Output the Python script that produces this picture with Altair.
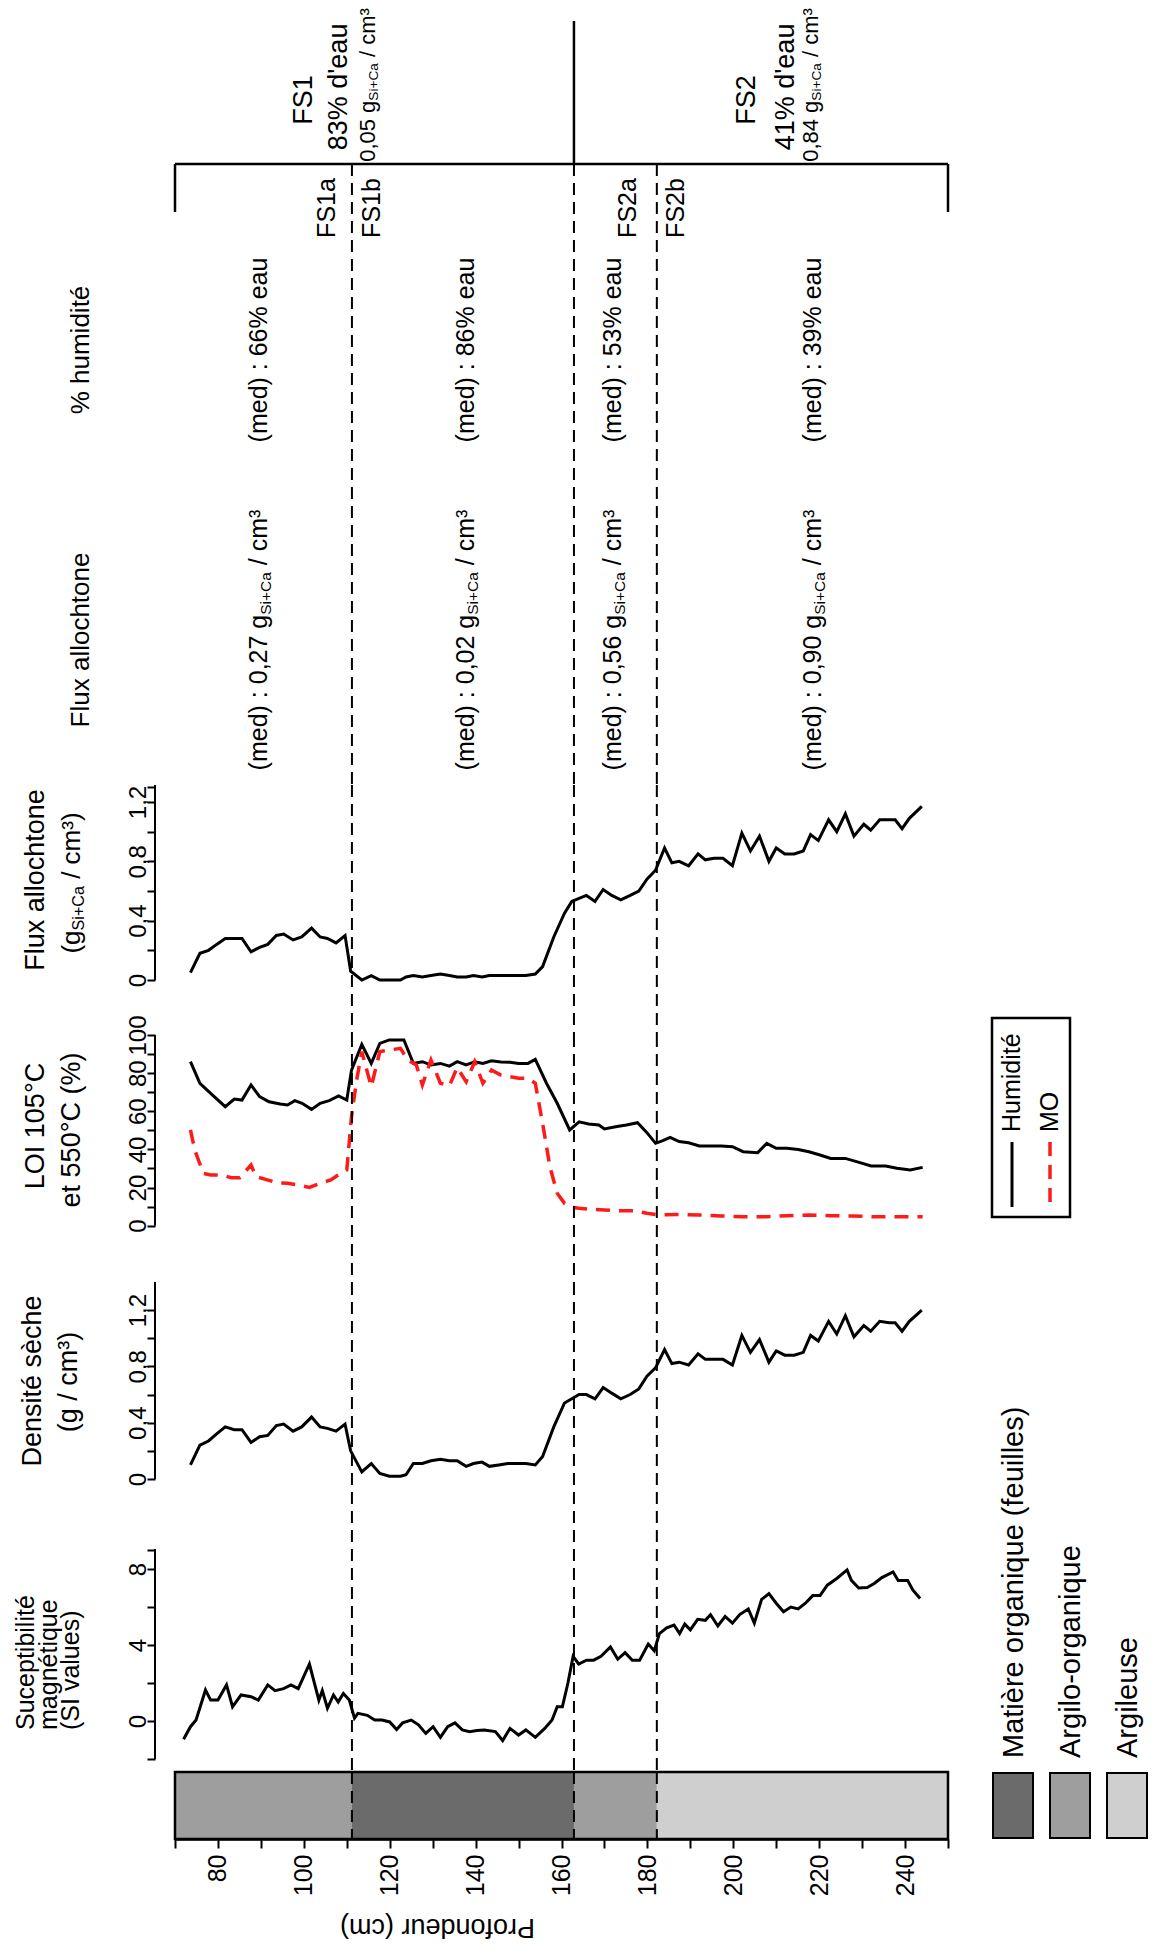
import altair as alt
import pandas as pd

# ---------------- data ----------------
mag_depth = [72.0, 73.6, 74.9, 77.1, 78.3, 80.0, 82.0, 83.4, 85.4, 87.7,
             89.4, 91.6, 93.3, 95.3, 97.0, 98.7, 101.3, 103.5, 104.3, 105.5,
             106.9, 108.0, 109.2, 110.6, 111.8, 112.6, 114.8, 116.5, 118.2, 120.0,
             121.6, 123.0, 125.0, 126.7, 128.4, 130.1, 131.8, 133.5, 135.2, 136.9,
             138.6, 140.3, 142.0, 144.6, 146.3, 148.0, 150.0, 151.7, 153.9, 156.1,
             157.8, 159.0, 160.2, 161.5, 162.7, 164.0, 165.8, 167.5, 169.2, 171.4,
             173.1, 174.8, 176.5, 178.2, 180.2, 181.6, 182.8, 184.5, 186.2, 187.5,
             188.7, 190.0, 191.7, 193.5, 194.7, 196.4, 198.1, 199.8, 201.5, 203.5,
             204.9, 206.6, 208.3, 210.0, 211.7, 213.4, 215.1, 216.8, 218.5, 220.2,
             221.9, 224.1, 226.5, 227.5, 229.2, 231.2, 232.9, 234.6, 237.2, 238.4,
             240.6, 241.8, 243.5]
mag_si = [-0.96, -0.3, 0.05, 1.63, 1.1, 1.1, 1.9, 0.75, 1.37, 1.28,
          1.1, 1.9, 1.6, 1.7, 1.9, 1.7, 3.0, 1.1, 1.6, 0.67,
          1.37, 1.0, 1.45, 1.1, 0.15, 0.4, 0.3, 0.05, 0.05, -0.05,
          -0.45, -0.1, 0.05, -0.2, -0.65, -0.3, -0.86, -0.3, -0.1, -0.47,
          -0.56, -0.5, -0.47, -0.56, -1.03, -0.39, -0.74, -0.47, -0.86, -0.39,
          0.05, 0.75, 0.75, 2.0, 3.4, 3.0, 3.2, 3.2, 3.4, 3.9,
          3.25, 3.6, 3.2, 3.2, 4.05, 3.7, 4.6, 4.9, 5.05, 4.6,
          5.1, 4.8, 5.35, 5.3, 5.6, 5.0, 5.5, 5.15, 5.6, 5.9,
          5.15, 6.4, 6.7, 6.2, 5.75, 6.0, 5.9, 6.2, 6.6, 6.6,
          7.15, 7.5, 7.95, 7.4, 7.0, 7.03, 7.25, 7.55, 7.85, 7.4,
          7.4, 6.9, 6.45]

dens_depth = [73.6, 75.8, 77.8, 79.7, 81.7, 83.8, 85.6, 87.7, 89.7, 91.6,
              93.6, 95.3, 97.5, 99.5, 101.8, 103.8, 105.5, 107.5, 109.6, 110.9,
              113.5, 115.7, 117.7, 119.9, 122.5, 123.8, 125.5, 127.6, 129.6, 131.8,
              133.9, 135.7, 137.8, 139.5, 141.5, 143.2, 145.4, 147.5, 149.7, 151.7,
              153.9, 155.6, 158.2, 160.7, 162.4, 164.1, 165.8, 167.8, 169.7, 171.7,
              173.8, 176.0, 178.0, 179.9, 181.9,
              184.0, 185.7, 187.4, 189.6, 191.8, 193.5, 195.5, 197.6, 199.8,
              202.0, 204.0, 206.1, 208.3, 210.0, 212.0, 214.2, 216.3, 218.0, 219.8,
              222.2, 224.1, 226.1, 228.1, 230.4, 232.0, 234.1, 236.3, 237.7, 239.3,
              241.0, 243.9]
dens_value = [0.10, 0.24, 0.27, 0.32, 0.37, 0.35, 0.35, 0.26, 0.30, 0.31,
              0.38, 0.39, 0.34, 0.37, 0.44, 0.37, 0.36, 0.34, 0.39, 0.20,
              0.05, 0.11, 0.04, 0.02, 0.02, 0.03, 0.11, 0.11, 0.13, 0.14,
              0.13, 0.13, 0.09, 0.11, 0.12, 0.09, 0.10, 0.11, 0.11, 0.11,
              0.10, 0.16, 0.37, 0.54, 0.57, 0.60, 0.60, 0.57, 0.65, 0.61,
              0.57, 0.60, 0.64, 0.73, 0.79,
              0.92, 0.82, 0.83, 0.81, 0.89, 0.85, 0.85, 0.85, 0.81,
              1.02, 0.90, 0.99, 0.83, 0.91, 0.88, 0.88, 0.90, 1.02, 0.98,
              1.12, 1.03, 1.16, 1.01, 1.09, 1.05, 1.12, 1.11, 1.11, 1.05,
              1.12, 1.20]
flux_value = [0.05, 0.18, 0.20, 0.24, 0.28, 0.28, 0.28, 0.19, 0.22, 0.24,
              0.30, 0.31, 0.27, 0.29, 0.35, 0.29, 0.28, 0.25, 0.30, 0.06,
              0.00, 0.03, 0.00, 0.00, 0.00, 0.02, 0.03, 0.02, 0.03, 0.04,
              0.03, 0.02, 0.02, 0.03, 0.02, 0.03, 0.03, 0.03, 0.03, 0.03,
              0.04, 0.09, 0.29, 0.45, 0.53, 0.55, 0.57, 0.53, 0.61, 0.57,
              0.54, 0.57, 0.60, 0.68, 0.74,
              0.89, 0.79, 0.80, 0.77, 0.85, 0.81, 0.82, 0.82, 0.77,
              0.99, 0.87, 0.97, 0.80, 0.89, 0.85, 0.85, 0.87, 0.98, 0.94,
              1.08, 1.00, 1.12, 0.97, 1.05, 1.01, 1.08, 1.08, 1.08, 1.02,
              1.09, 1.17]

hum_depth = [73.6, 75.8, 78.3, 81.7, 83.8, 85.6, 87.7, 89.7, 91.9, 94.5,
             96.2, 97.9, 99.6, 101.8, 103.8, 105.9, 108.1, 110.0, 111.1, 113.5,
             115.7, 117.7, 119.9, 123.3, 125.5, 127.6, 129.6, 131.8, 133.9, 135.7,
             137.8, 139.8, 141.7, 143.7, 145.9, 148.0, 150.0, 152.2, 153.9, 156.5,
             159.0, 161.9, 164.1, 166.3, 168.7, 170.0, 172.6, 175.1, 177.7, 179.9,
             181.9, 183.6, 185.3, 187.4, 189.6, 192.1, 194.7, 197.2, 199.8, 202.3,
             205.7, 207.8, 210.0, 212.5, 215.1, 217.6, 220.2, 222.7, 226.1, 228.7,
             232.1, 235.5, 238.1, 241.2, 244.1]
hum_value = [86.0, 74.7, 69.4, 62.4, 66.4, 65.9, 73.8, 67.7, 65.0, 63.8,
             63.3, 65.6, 64.2, 61.0, 64.2, 65.6, 68.0, 65.9, 81.6, 95.1,
             85.1, 95.6, 97.4, 97.4, 85.1, 86.0, 84.3, 85.1, 83.7, 86.0,
             84.3, 86.0, 85.1, 86.5, 85.8, 85.7, 85.1, 85.1, 87.2, 74.7,
             64.2, 50.2, 54.5, 53.3, 52.8, 50.7, 51.9, 52.8, 54.0, 48.8,
             43.2, 44.6, 46.3, 44.1, 43.5, 41.8, 41.8, 41.8, 41.4, 38.8,
             38.3, 43.2, 40.6, 40.6, 40.0, 38.8, 37.1, 35.3, 35.3, 33.6,
             31.3, 31.3, 30.1, 29.2, 30.6]

mo_depth = [73.6, 74.6, 76.6, 78.3, 80.9, 83.1, 85.1, 87.7, 88.9, 91.1,
            93.6, 96.2, 98.7, 101.3, 103.8, 106.3, 108.0, 110.0, 111.1, 112.3,
            113.5, 115.7, 117.7, 119.9, 122.5, 124.2, 126.2, 127.6, 129.6, 131.8,
            133.9, 135.7, 137.8, 139.8, 141.7, 143.7, 145.9, 148.0, 150.0, 152.2,
            153.9, 155.6, 157.3, 159.0, 160.7, 162.4, 164.1, 166.6, 170.0, 173.4,
            176.8, 179.9, 182.8, 187.0, 192.1, 197.2, 202.3, 207.4, 212.5, 217.6,
            222.7, 227.8, 232.9, 238.1, 244.1]
mo_value = [50.2, 39.7, 27.4, 26.6, 26.6, 25.2, 25.2, 31.8, 25.7, 24.3,
            22.6, 22.2, 21.3, 20.1, 22.2, 24.0, 26.6, 29.2, 57.2, 76.4,
            91.3, 72.9, 91.3, 92.1, 93.0, 86.9, 84.3, 73.8, 86.9, 74.7,
            73.3, 83.0, 75.5, 86.0, 74.7, 81.6, 79.0, 78.1, 77.3, 77.3,
            74.7, 53.7, 30.9, 17.0, 11.7, 9.6, 9.1, 8.6, 8.2, 7.9,
            7.9, 6.5, 5.6, 5.9, 5.6, 5.1, 4.7, 4.7, 5.2, 5.6,
            5.2, 5.1, 4.7, 4.7, 4.7]

unit_bounds = [111.2, 162.9, 182.2]
litho_start = [70, 111.2, 162.9, 182.2]
litho_end = [111.2, 162.9, 182.2, 250]
litho_class = ["Argilo-organique", "Matière organique (feuilles)", "Argilo-organique", "Argileuse"]
litho_names = ["Matière organique (feuilles)", "Argilo-organique", "Argileuse"]
litho_colors = ["#6b6b6b", "#9e9e9e", "#cfcfcf"]

med_humidite = ["(med) : 66% eau", "(med) : 86% eau", "(med) : 53% eau", "(med) : 39% eau"]
med_flux = ["0,27", "0,02", "0,56", "0,90"]

# ---------------- layout (image pixel geometry) ----------------
FONT = "Liberation Sans"
X0 = 179.0          # left edge of plot area
W = 773             # plot width (depth 70 -> 250)
D0, D1 = 70, 250
BANDS = {"header": (8, 785), "flux": (785, 1035), "loi": (1035, 1283),
         "dens": (1283, 1549), "mag": (1549, 1772), "bar": (1772, 1839)}
CAL = {"flux": (980.0, 148.33), "loi": (1225.7, 1.907),
       "dens": (1479.0, 140.75), "mag": (1721.0, 19.0)}
MED_X = [263, 470, 617, 817]

AW = {' ': .278, '(': .333, ')': .333, ':': .278, ',': .278, '.': .278, '/': .278,
      '%': .889, '+': .584, "'": .191, '°': .4, '³': .333, '-': .333,
      'a': .556, 'b': .556, 'c': .5, 'd': .556, 'e': .556, 'é': .556, 'è': .556,
      'f': .278, 'g': .556, 'h': .556, 'i': .222, 'l': .222, 'm': .833, 'n': .556,
      'o': .556, 'p': .556, 'q': .556, 'r': .333, 's': .5, 't': .278, 'u': .556,
      'v': .5, 'x': .5, 'A': .667, 'C': .722, 'D': .722, 'F': .611, 'I': .278,
      'L': .556, 'M': .833, 'O': .778, 'S': .667, 'H': .722}


def tw(s, fs):
    return sum(AW.get(c, 0.556) for c in s) * fs


def rich(parts, x_img, y_img, size, band, anchor="middle", col="black"):
    top = BANDS[band][0]
    items = []
    for p in parts:
        sub = p.startswith("_")
        t = p[1:] if sub else p
        items.append((t, size * 0.62 if sub else size, sub))
    total = sum(tw(t, fs) for t, fs, _ in items)
    start = y_img + total / 2 if anchor == "middle" else y_img
    rows, off = [], 0.0
    for t, fs, sub in items:
        lead = len(t) - len(t.lstrip(" "))
        core = t.strip(" ")
        trail = len(t) - lead - len(core)
        off += lead * 0.278 * fs
        rows.append({"xp": x_img - X0 + (0.26 * size if sub else 0.0),
                     "yp": start - off - top, "text": core, "fs": fs, "col": col})
        off += tw(core, fs) + trail * 0.278 * fs
    return rows


def text_layer(rows):
    return alt.Chart(pd.DataFrame(rows)).mark_text(
        angle=270, align="left", baseline="middle", font=FONT).encode(
        x=alt.X("xp:Q", scale=None, axis=None),
        y=alt.Y("yp:Q", scale=None, axis=None),
        text="text:N",
        size=alt.Size("fs:Q", scale=None, legend=None),
        color=alt.Color("col:N", scale=None, legend=None))


XS = alt.Scale(domain=[D0, D1], nice=False, zero=False)


def dx(field, axis=alt.Undefined):
    return alt.X(field, type="quantitative", scale=XS, axis=axis)


def band_h(name):
    return BANDS[name][1] - BANDS[name][0]


def yscale(name):
    top, bot = BANDS[name]
    zero, k = CAL[name]
    return alt.Scale(domain=[-(bot - zero) / k, (zero - top) / k], nice=False, zero=False)


def yaxis(ticks, expr):
    return alt.Axis(orient="left", offset=20, domain=False, values=ticks, tickCount=100,
                    tickSize=8, tickWidth=2, tickColor="black", labelAngle=270, labelFont=FONT,
                    labelFontSize=24, labelColor="black", labelPadding=2,
                    labelBaseline="alphabetic", labelAlign="center", labelExpr=expr,
                    labelFlush=False, labelOverlap=False, grid=False, title=None)


def dashed_full():
    return alt.Chart(pd.DataFrame({"d": unit_bounds})).mark_rule(
        strokeDash=[12, 7], strokeWidth=2, color="black").encode(x=dx("d"))


def axis_line(name, a, b):
    return alt.Chart(pd.DataFrame({"a": [a], "b": [b]})).mark_rule(
        color="black", strokeWidth=2).encode(
        x=alt.value(-20), y=alt.Y("a:Q", scale=yscale(name)), y2="b:Q")


def series_line(name, depth, values, yax=alt.Undefined, xax=alt.Undefined, **mk):
    df = pd.DataFrame({"depth": depth, "value": values})
    return alt.Chart(df).mark_line(**mk).encode(
        x=dx("depth", axis=xax), y=alt.Y("value:Q", scale=yscale(name), axis=yax))


# ---------------- header ----------------
hb = band_h("header")
htop = BANDS["header"][0]
bracket = pd.DataFrame({"x1": [70, 70, 250, 162.9], "x2": [250, 70, 250, 162.9],
                        "y1": [164 - htop, 164 - htop, 164 - htop, 21 - htop],
                        "y2": [164 - htop, 212 - htop, 212 - htop, 164 - htop]})
bracket_layer = alt.Chart(bracket).mark_rule(color="black", strokeWidth=2.5).encode(
    x=dx("x1", axis=None), x2="x2", y=alt.Y("y1:Q", scale=None, axis=None), y2="y2")
header_dashed = alt.Chart(pd.DataFrame({"d": unit_bounds})).mark_rule(
    strokeDash=[12, 7], strokeWidth=2, color="black").encode(
    x=dx("d"), y=alt.value(164 - htop), y2=alt.value(hb))

hrows = []
hrows += rich(["FS1"], 308, 100, 27, "header")
hrows += rich(["83% d'eau"], 343, 87, 27, "header")
hrows += rich(["0,05 g", "_Si+Ca", " / cm³"], 372, 85, 22, "header")
hrows += rich(["FS2"], 751, 100, 27, "header")
hrows += rich(["41% d'eau"], 790, 87, 27, "header")
hrows += rich(["0,84 g", "_Si+Ca", " / cm³"], 815, 85, 22, "header")
for lab, xx in zip(["FS1a", "FS1b", "FS2a", "FS2b"], [331, 376, 632, 680]):
    hrows += rich([lab], xx, 208, 25, "header")
hrows += rich(["% humidité"], 85, 350, 26, "header")
hrows += rich(["Flux allochtone"], 85, 640, 26, "header")
for t, xx in zip(med_humidite, MED_X):
    hrows += rich([t], xx, 350, 25, "header")
for v, xx in zip(med_flux, MED_X):
    hrows += rich(["(med) : " + v + " g", "_Si+Ca", " / cm³"], xx, 640, 25, "header")

header = alt.layer(bracket_layer, header_dashed, text_layer(hrows)).properties(width=W, height=hb)

# ---------------- flux ----------------
flux_expr = "datum.value == 0 ? '0' : (round(datum.value*10) % 4 == 0 ? replace(format(datum.value, '.1f'), '.', ',') : '')"
flux_ticks = [0, 0.2, 0.4, 0.6, 0.8, 1.0, 1.2, 1.3]
frows = rich(["Flux allochtone"], 40, 880, 27, "flux") + \
    rich(["(g", "_Si+Ca", " / cm³)"], 76, 883, 26, "flux")
flux = alt.layer(
    series_line("flux", dens_depth, flux_value, yax=yaxis(flux_ticks, flux_expr), xax=None,
                color="black", strokeWidth=3),
    dashed_full(), axis_line("flux", 0, 1.3146),
    text_layer(frows)).properties(width=W, height=band_h("flux"))

# ---------------- LOI ----------------
loi_top = BANDS["loi"][0]
lrows = rich(["LOI 105°C"], 40, 1126, 27, "loi") + rich(["et 550°C (%)"], 76, 1130, 27, "loi")
lrows += rich(["Humidité"], 1016, 1132, 25, "loi", anchor="start")
lrows += rich(["MO"], 1054, 1132, 25, "loi", anchor="start")
leg_box = alt.Chart(pd.DataFrame({"x1": [996 - X0], "x2": [1074 - X0],
                                  "y1": [1018 - loi_top], "y2": [1217 - loi_top]})).mark_rect(
    fillOpacity=0, stroke="black", strokeWidth=2.5).encode(
    x=alt.X("x1:Q", scale=None, axis=None), x2="x2",
    y=alt.Y("y1:Q", scale=None, axis=None), y2="y2")
leg_solid = alt.Chart(pd.DataFrame({"x": [1016 - X0], "y1": [1142 - loi_top], "y2": [1207 - loi_top]})).mark_rule(
    color="black", strokeWidth=3).encode(
    x=alt.X("x:Q", scale=None, axis=None), y=alt.Y("y1:Q", scale=None, axis=None), y2="y2")
leg_dash = alt.Chart(pd.DataFrame({"x": [1054 - X0], "y1": [1142 - loi_top], "y2": [1207 - loi_top]})).mark_rule(
    color="#ff1a1a", strokeWidth=3.5, strokeDash=[14, 9]).encode(
    x=alt.X("x:Q", scale=None, axis=None), y=alt.Y("y1:Q", scale=None, axis=None), y2="y2")
loi_expr = "datum.value % 20 == 0 ? datum.label : ''"
loi = alt.layer(
    series_line("loi", hum_depth, hum_value, yax=yaxis(list(range(0, 101, 10)), loi_expr), xax=None,
                color="black", strokeWidth=3),
    series_line("loi", mo_depth, mo_value, color="#ff1a1a", strokeWidth=3.5, strokeDash=[14, 9]),
    dashed_full(), axis_line("loi", 0, 100),
    leg_box, leg_solid, leg_dash, text_layer(lrows)).properties(width=W, height=band_h("loi"))

# ---------------- density ----------------
drows = rich(["Densité sèche"], 37, 1381, 27, "dens") + rich(["(g / cm³)"], 73, 1382, 27, "dens")
dens = alt.layer(
    series_line("dens", dens_depth, dens_value,
                yax=yaxis([0, 0.2, 0.4, 0.6, 0.8, 1.0, 1.2, 1.4], flux_expr), xax=None,
                color="black", strokeWidth=3),
    dashed_full(), axis_line("dens", 0, 1.4),
    text_layer(drows)).properties(width=W, height=band_h("dens"))

# ---------------- magnetic susceptibility ----------------
mrows = rich(["Suceptibilité"], 30, 1730, 25, "mag", anchor="start") + \
    rich(["magnétique"], 53, 1730, 25, "mag", anchor="start") + \
    rich(["(SI values)"], 75, 1730, 25, "mag", anchor="start")
mag_expr = "(datum.value == 0 || datum.value == 4 || datum.value == 8) ? format(datum.value, 'd') : ''"
mag = alt.layer(
    series_line("mag", mag_depth, mag_si, yax=yaxis([-2, 0, 2, 4, 6, 8, 9], mag_expr), xax=None,
                color="black", strokeWidth=3),
    dashed_full(), axis_line("mag", -2, 9.05),
    text_layer(mrows)).properties(width=W, height=band_h("mag"))

# ---------------- lithology bar + depth axis ----------------
bh = band_h("bar")
xaxis = alt.Axis(orient="bottom", values=list(range(70, 251, 10)), tickCount=100, tickSize=9,
                 tickWidth=2, tickColor="black", domain=True, domainColor="black", domainWidth=2.5,
                 labelAngle=270, labelFont=FONT, labelFontSize=25, labelColor="black",
                 labelPadding=6,
                 labelExpr="(datum.value % 20 == 0 && datum.value >= 80 && datum.value <= 240) ? datum.label : ''",
                 labelFlush=False, labelOverlap=False, grid=False, title="Profondeur (cm)",
                 titleAngle=180, titleBaseline="bottom", titleFont=FONT, titleFontSize=27,
                 titleFontWeight="normal", titleColor="black", titleX=262, titleY=73)
litho_df = pd.DataFrame({"start": litho_start, "end": litho_end, "classe": litho_class})
litho = alt.Chart(litho_df).mark_rect().encode(
    x=dx("start", axis=xaxis), x2="end", y=alt.value(0), y2=alt.value(bh),
    color=alt.Color("classe:N", scale=alt.Scale(domain=litho_names, range=litho_colors), legend=None))
border = alt.Chart(pd.DataFrame({"a": [D0], "b": [D1]})).mark_rect(
    fillOpacity=0, stroke="black", strokeWidth=2.5).encode(
    x=dx("a"), x2="b", y=alt.value(0), y2=alt.value(bh))
sq_left = [997, 1054, 1111]
sq_df = pd.DataFrame({"x1": [v - X0 for v in sq_left], "x2": [v + 40 - X0 for v in sq_left],
                      "classe": litho_names})
squares = alt.Chart(sq_df).mark_rect(stroke="black", strokeWidth=2).encode(
    x=alt.X("x1:Q", scale=None, axis=None), x2="x2", y=alt.value(1), y2=alt.value(bh - 1),
    color=alt.Color("classe:N", scale=alt.Scale(domain=litho_names, range=litho_colors), legend=None))
brows = []
for name, xl in zip(litho_names, sq_left):
    brows += rich([name], xl + 21, 1758, 29, "bar", anchor="start")
bar = alt.layer(litho, dashed_full(), border, squares, text_layer(brows)).properties(width=W, height=bh)

chart = alt.vconcat(header, flux, loi, dens, mag, bar, spacing=0, bounds="flush").properties(
    padding={"left": 6, "top": 0, "right": 0, "bottom": 3}
).configure_view(stroke=None)

chart.save("out.html", embed_options={"renderer": "svg", "actions": False})
